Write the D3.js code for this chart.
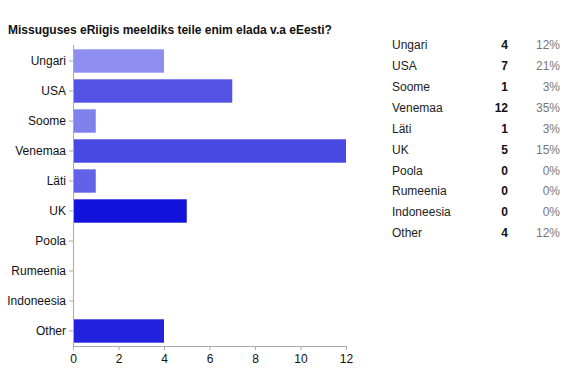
<!DOCTYPE html>
<html><head><meta charset="utf-8">
<script src="https://cdn.jsdelivr.net/npm/d3@7"></script>
<style>body{margin:0;background:#fff;}svg{display:block;font-family:"Liberation Sans",Arial,sans-serif;}</style>
</head><body><svg id="c" width="577" height="388"></svg>
<script>
const categories = ["Ungari","USA","Soome","Venemaa","Läti","UK","Poola","Rumeenia","Indoneesia","Other"];
const counts = [4,7,1,12,1,5,0,0,0,4];
const percents = ["12%","21%","3%","35%","3%","15%","0%","0%","0%","12%"];
const colors = ["#8f8ff0","#5353e6","#8181ee","#4848e2","#6262e8","#1212dc","#3030e0","#3030e0","#3030e0","#2222dd"];
const xTicks = [0,2,4,6,8,10,12];
const title = "Missuguses eRiigis meeldiks teile enim elada v.a eEesti?";

const svg = d3.select("#c");
svg.append("text").attr("x",8).attr("y",34).attr("font-size",12).attr("font-weight","bold").attr("fill","#111").text(title);

const x = d3.scaleLinear().domain([0,12]).range([73,346]);
const y = d3.scaleBand().domain(categories).range([46,346]).paddingInner(0.22).paddingOuter(0.11);

const g = svg.append("g");
g.selectAll("rect").data(categories).join("rect")
  .attr("x", x(0)+1).attr("y", d=>y(d))
  .attr("width", (d,i)=>Math.max(0, x(counts[i])-x(0)-1))
  .attr("height", y.bandwidth())
  .attr("fill",(d,i)=>colors[i]);

// y axis
const ya = svg.append("g").attr("transform",`translate(${x(0)},0)`).call(d3.axisLeft(y).tickSize(4).tickPadding(3));
ya.select(".domain").attr("stroke","#aaa").attr("d","M0.5,45V346.5");
ya.selectAll(".tick line").attr("stroke","#aaa");
ya.selectAll(".tick text").attr("font-size",12).attr("fill","#111").attr("font-family","Liberation Sans, Arial, sans-serif");

// x axis
const xa = svg.append("g").attr("transform","translate(0,346)").call(d3.axisBottom(x).tickValues(xTicks).tickSize(4).tickPadding(4));
xa.select(".domain").attr("stroke","#aaa").attr("d",`M${x(0)+0.5},0.5H${x(12)+0.5}`);
xa.selectAll(".tick line").attr("stroke","#aaa");
xa.selectAll(".tick text").attr("font-size",12).attr("fill","#111").attr("font-family","Liberation Sans, Arial, sans-serif");

// table
const rowY = d3.scalePoint().domain(categories).range([45,233]);
const t = svg.append("g").attr("font-size",12);
t.selectAll(".lab").data(categories).join("text").attr("class","lab")
  .attr("x",392).attr("y",d=>rowY(d)).attr("dy","0.35em").attr("fill","#222").text(d=>d);
t.selectAll(".cnt").data(categories).join("text").attr("class","cnt")
  .attr("x",508).attr("y",d=>rowY(d)).attr("dy","0.35em").attr("text-anchor","end").attr("font-weight","bold").attr("fill","#111").text((d,i)=>counts[i]);
t.selectAll(".pct").data(categories).join("text").attr("class","pct")
  .attr("x",560).attr("y",d=>rowY(d)).attr("dy","0.35em").attr("text-anchor","end").attr("fill","#777").text((d,i)=>percents[i]);
</script></body></html>
